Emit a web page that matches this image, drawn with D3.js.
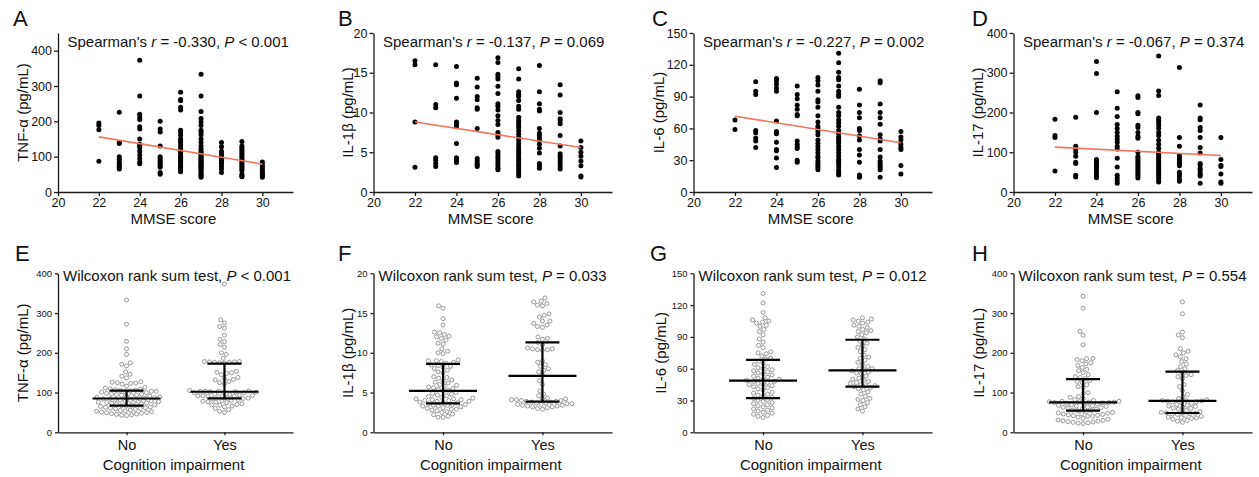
<!DOCTYPE html>
<html><head><meta charset="utf-8">
<script src="https://cdn.jsdelivr.net/npm/d3@7"></script>
<style>body{margin:0;background:#fff} text{font-family:Arial,'Liberation Sans',sans-serif;fill:#111}</style>
</head><body><svg id="c" width="1259" height="477"></svg>
<script>
// ---------- DATA ----------
const mmseTicks = [20, 22, 24, 26, 28, 30];
const mmseScores = [22, 23, 24, 25, 26, 27, 28, 29, 30];
const groups = ["No", "Yes"];

const tnfByScore = [
  [195, 188, 176, 87],
  [226, 140, 137, 100, 93, 85, 80, 75, 70, 65],
  [373, 272, 220, 212, 205, 185, 178, 150, 135, 130, 125, 115, 105, 95, 85, 80],
  [200, 178, 170, 130, 100, 95, 90, 85, 80, 75, 70, 55, 50],
  [282, 262, 258, 240, 232, 175, 168, 160, 150, 145, 140, 133, 125, 118, 112, 105, 100, 98, 95, 92, 88, 85, 80, 75, 70, 65, 60, 57],
  [333, 272, 228, 208, 198, 188, 175, 170, 162, 150, 140, 130, 122, 115, 110, 107, 103, 100, 97, 94, 91, 88, 85, 82, 79, 76, 73, 70, 67, 64, 60, 56, 52, 48, 45, 42],
  [140, 128, 115, 108, 103, 98, 95, 90, 85, 80, 73, 65, 55],
  [143, 130, 125, 120, 115, 110, 105, 100, 95, 90, 85, 80, 75, 70, 65, 60, 50, 45, 43],
  [85, 78, 72, 66, 60, 55, 50, 45, 42]
];
const il1bByScore = [
  [16.5, 16.0, 8.8, 3.1],
  [16.0, 11.0, 10.6, 4.3, 4.0, 3.6, 3.2],
  [15.8, 13.7, 13.5, 11.8, 8.8, 8.5, 8.2, 6.1, 4.3, 4.1, 3.9, 3.7],
  [14.3, 13.2, 12.0, 11.6, 10.6, 10.4, 8.0, 4.2, 3.9, 3.6, 3.4, 3.2],
  [16.9, 16.3, 14.8, 14.5, 14.2, 13.3, 12.4, 11.1, 10.8, 10.3, 9.6, 9.0, 8.5, 7.5, 7.2, 6.9, 5.1, 4.8, 4.5, 4.2, 3.9, 3.6, 3.3, 3.0, 2.8],
  [15.5, 14.2, 12.6, 12.3, 12.0, 11.5, 10.8, 10.4, 9.4, 9.0, 8.7, 8.4, 8.1, 7.7, 7.3, 6.9, 6.5, 6.1, 5.7, 5.3, 5.0, 4.7, 4.4, 4.1, 3.8, 3.5, 3.2, 2.9, 2.6, 2.3, 2.0],
  [15.9, 12.6, 11.1, 10.4, 10.2, 8.0, 7.4, 7.1, 6.8, 6.5, 6.0, 5.5, 4.9, 3.6, 3.3, 3.0],
  [13.5, 12.2, 10.0, 9.2, 9.0, 8.6, 7.1, 5.8, 4.8, 4.5, 4.2, 3.9, 3.6, 3.2, 2.9],
  [6.4, 5.6, 5.0, 4.5, 3.9, 3.3, 2.0, 1.9]
];
const il6ByScore = [
  [68, 59],
  [104, 95, 92, 58, 56, 51, 48, 42],
  [107, 105, 102, 98, 95, 67, 57, 55, 47, 40, 39, 32, 23],
  [100, 92, 88, 82, 78, 73, 72, 48, 45, 43, 41, 30, 28],
  [108, 105, 101, 95, 87, 85, 80, 72, 66, 62, 60, 57, 54, 49, 46, 43, 40, 37, 34, 32, 29, 27, 25, 23, 21],
  [131, 122, 113, 108, 106, 100, 95, 92, 90, 80, 75, 72, 68, 65, 62, 58, 55, 52, 50, 48, 46, 43, 40, 37, 34, 31, 29, 27, 24, 21, 19, 17, 16],
  [97, 82, 75, 70, 60, 58, 53, 49, 40, 35, 28, 16, 15, 14],
  [105, 103, 83, 75, 70, 64, 54, 50, 48, 40, 33, 29, 27, 25, 23, 21, 14],
  [57, 52, 49, 45, 42, 40, 25, 17]
];
const il17ByScore = [
  [183, 142, 137, 53],
  [188, 115, 108, 100, 90, 75, 72, 42, 38],
  [328, 298, 200, 82, 78, 73, 68, 63, 58, 52, 45, 40, 36],
  [252, 211, 190, 170, 160, 150, 140, 133, 125, 115, 108, 85, 63, 42, 35, 28, 22],
  [242, 238, 200, 197, 168, 162, 150, 140, 135, 100, 90, 85, 80, 75, 70, 65, 60, 55, 50, 45, 40, 35],
  [342, 254, 243, 186, 180, 175, 168, 160, 150, 142, 130, 120, 110, 100, 95, 90, 85, 80, 75, 70, 65, 60, 55, 50, 45, 40, 35, 30, 25],
  [313, 137, 115, 92, 88, 82, 77, 72, 66, 50, 45, 40, 33, 27],
  [219, 186, 182, 162, 155, 137, 112, 98, 72, 68, 60, 55, 48, 44, 40, 22],
  [137, 82, 67, 64, 45, 25, 22]
];
// fitted line values at MMSE 22 and 30
const tnfFit = [156, 79];
const il1bFit = [8.8, 5.6];
const il6Fit = [71.5, 46.4];
const il17Fit = [113, 92];

// group values (No / Yes cognition impairment)
const tnfNo = [333, 272, 229, 210, 196, 175, 171, 167, 152, 146, 141, 137,
  127, 126, 125, 124, 123, 121, 116, 113,
  111, 109, 108, 107, 106, 105, 104, 103, 103, 102, 101, 100,
  98, 97, 96, 95, 94, 93, 92, 91, 90, 89, 88, 87, 86,
  85, 84, 84, 83, 82, 81, 80, 79, 78, 77, 76, 75, 74, 73, 72,
  71, 70, 69, 68, 67, 66, 65, 64, 63, 62, 61, 60, 59, 58,
  56, 55, 54, 53, 52, 51, 50, 49, 48, 47, 46, 45, 44, 43, 42];
const tnfYes = [373, 283, 275, 266, 262, 244, 234, 228, 221, 214, 200, 196, 186,
  178, 178, 177, 177, 176, 176, 175, 174,
  153, 151, 150, 148, 145,
  138, 135, 133, 132, 128, 125, 122,
  105, 104, 104, 103, 103, 102, 102, 101, 100, 100, 99,
  96, 95, 94, 93, 92, 92, 91, 90, 89, 88,
  86, 85, 84, 82, 80, 79, 78, 77, 76, 75,
  72, 70, 69, 68, 66, 64, 60, 57, 53, 50];
const il1bNo = [15.9, 15.6, 14.3, 13.5, 12.6, 12.5, 12.3, 12.1, 12.0, 11.8, 11.6, 11.2, 11.1, 10.5, 10.2, 10.0, 9.9,
  9.1, 9.0, 9.0, 8.9, 8.8, 8.7, 8.5, 8.4, 8.3, 8.2, 8.0, 7.8, 7.6, 7.5,
  7.0, 6.9, 6.8, 6.6, 6.5, 6.3, 6.2, 6.0, 5.9, 5.8, 5.7, 5.6, 5.5, 5.4, 5.3, 5.2,
  5.0, 4.9, 4.8, 4.7, 4.6, 4.5, 4.4, 4.3, 4.2, 4.2, 4.1, 4.1, 4.0, 4.0, 3.9, 3.9, 3.8, 3.8, 3.7,
  3.6, 3.5, 3.5, 3.4, 3.4, 3.3, 3.3, 3.2, 3.1, 3.0, 2.9, 2.9, 2.8, 2.7, 2.6, 2.5, 2.3, 2.2, 2.0, 1.9, 1.9];
const il1bYes = [16.9, 16.5, 16.4, 16.2, 16.0, 15.9, 14.9, 14.7, 14.5, 14.0, 14.0, 13.7, 13.5, 13.3, 13.2,
  12.0, 11.8, 11.7, 11.3, 11.0, 10.6, 10.5, 10.5, 10.4, 10.4, 10.3,
  9.0, 8.8, 8.5, 8.3, 8.0, 7.8, 7.6, 7.2, 6.5, 6.0, 5.2, 4.8, 4.6,
  4.3, 4.2, 4.2, 4.1, 4.1, 4.0, 4.0, 3.9, 3.9, 3.8, 3.8, 3.7, 3.7, 3.6, 3.6, 3.5, 3.5,
  3.4, 3.4, 3.3, 3.3, 3.2, 3.2, 3.1, 3.0, 2.9];
const il6No = [131, 122, 113, 108, 106, 105, 104, 103, 101, 100, 97, 95, 92, 88, 85, 82, 80, 76, 75, 74, 72, 70, 69, 67, 65,
  64, 62, 61, 60, 59, 58, 57, 56, 55, 54, 53, 52, 51, 50, 50, 49, 48, 48, 47, 46, 45, 45, 44, 43, 42, 41, 40,
  38, 37, 36, 35, 34, 33, 32, 31, 30, 29, 28, 27, 26, 25, 24, 23, 22, 21, 20, 19, 18, 17, 16, 15, 14];
const il6Yes = [108, 107, 106, 105, 104, 103, 101, 100, 99, 97, 96, 95, 94, 92, 90, 88, 86, 84, 82, 80, 78, 76, 73, 71, 70,
  68, 66, 64, 62, 60, 60, 59, 58, 57, 56, 55, 53, 51, 50, 49, 48, 47, 46, 45, 44, 44, 43, 42, 41, 40,
  38, 36, 34, 32, 31, 30, 28, 26, 24, 22, 20];
const il17No = [342, 312, 254, 244, 220, 186, 185, 183, 180, 175, 172, 168, 163, 158, 155, 150, 145, 140, 138, 135, 130, 128, 125, 120, 115, 112,
  100, 98, 90, 88, 85, 82, 80, 78, 78, 77, 77, 76, 76, 75, 75, 74, 73, 72, 71, 70, 68, 67, 66, 65, 64, 63, 62, 61, 60,
  58, 56, 55, 54, 52, 50, 49, 48, 47, 46, 45, 44, 43, 42, 41, 40, 38, 35, 33, 31, 30, 29, 28, 27, 26, 25, 24, 23, 22];
const il17Yes = [328, 298, 252, 245, 238, 210, 204, 200, 195, 190, 185, 178, 172, 165, 160, 155, 150, 145, 143, 140, 135, 120, 115, 105,
  95, 90, 85, 82, 80, 80, 79, 78, 77, 76, 75, 73, 70, 68, 66, 65, 63, 61, 60, 58, 55, 52, 50, 50, 49, 48, 47, 46, 45,
  42, 40, 38, 37, 36, 35, 33, 30, 28, 25];
// [q1, median, q3]
const tnfNoStats = [67, 85, 105], tnfYesStats = [85.5, 102, 173];
const il1bNoStats = [3.65, 5.2, 8.6], il1bYesStats = [3.85, 7.1, 11.3];
const il6NoStats = [32.3, 48.7, 68.4], il6YesStats = [43, 58.5, 87.3];
const il17NoStats = [54.5, 75.5, 134], il17YesStats = [48.6, 79, 152.6];

// ---------- LAYOUT ----------
const svg = d3.select("#c");
const axisX = [58, 373.5, 693.5, 1013.5];
const axisEnd = [293, 612, 932, 1252];
const ylabOff = [35, 26, 35, 36];
const ylabOffB = [35, 26, 33, 35];
const letterX = [13, 338, 652, 972];
const letterXB = [15, 338, 650, 972];
const INK = "#1a1a1a";

const topPanels = [
  {L: "A", lab: "TNF-α (pg/mL)", dom: [0, 450], ticks: [0,100,200,300,400], data: tnfByScore, fit: tnfFit, txt: ["Spearman's ", "r", " = -0.330, ", "P", " < 0.001"]},
  {L: "B", lab: "IL-1β (pg/mL)", dom: [0, 20], ticks: [0,5,10,15,20], data: il1bByScore, fit: il1bFit, txt: ["Spearman's ", "r", " = -0.137, ", "P", " = 0.069"]},
  {L: "C", lab: "IL-6 (pg/mL)", dom: [0, 150], ticks: [0,30,60,90,120,150], data: il6ByScore, fit: il6Fit, txt: ["Spearman's ", "r", " = -0.227, ", "P", " = 0.002"]},
  {L: "D", lab: "IL-17 (pg/mL)", dom: [0, 400], ticks: [0,100,200,300,400], data: il17ByScore, fit: il17Fit, txt: ["Spearman's ", "r", " = -0.067, ", "P", " = 0.374"]}
];
const bottomPanels = [
  {L: "E", lab: "TNF-α (pg/mL)", dom: [0, 400], ticks: [0,100,200,300,400], no: tnfNo, yes: tnfYes, sNo: tnfNoStats, sYes: tnfYesStats, p: " < 0.001"},
  {L: "F", lab: "IL-1β (pg/mL)", dom: [0, 20], ticks: [0,5,10,15,20], no: il1bNo, yes: il1bYes, sNo: il1bNoStats, sYes: il1bYesStats, p: " = 0.033"},
  {L: "G", lab: "IL-6 (pg/mL)", dom: [0, 150], ticks: [0,30,60,90,120,150], no: il6No, yes: il6Yes, sNo: il6NoStats, sYes: il6YesStats, p: " = 0.012"},
  {L: "H", lab: "IL-17 (pg/mL)", dom: [0, 400], ticks: [0,100,200,300,400], no: il17No, yes: il17Yes, sNo: il17NoStats, sYes: il17YesStats, p: " = 0.554"}
];

function styleAxis(g, fs) {
  g.selectAll(".domain").attr("stroke", INK).attr("stroke-width", 1.3);
  g.selectAll(".tick line").attr("stroke", INK).attr("stroke-width", 1.3);
  g.selectAll(".tick text").attr("fill", INK).style("font-size", fs + "px").style("font-family", "Arial,'Liberation Sans',sans-serif");
}

function swarm(vals, y, r, cx) {
  const sorted = vals.slice().sort((a, b) => a - b);
  const placed = [];
  const d = 2 * r + 0.9;
  for (const v of sorted) {
    const py = y(v);
    let off = 0;
    for (let k = 0; k < 600; k++) {
      const o = (k % 2 === 0 ? 1 : -1) * Math.ceil(k / 2) * 0.25;
      let ok = true;
      for (const p of placed) {
        const dx = p.o - o, dy = p.y - py;
        if (dx * dx + dy * dy < d * d) { ok = false; break; }
      }
      if (ok) { off = o; break; }
    }
    placed.push({o: off, y: py, v});
  }
  return placed.map(p => ({x: cx + p.o, y: p.y}));
}

// ---------- TOP ROW ----------
topPanels.forEach((P, i) => {
  const x = d3.scaleLinear().domain([20, 31.5]).range([axisX[i], axisEnd[i]]);
  const y = d3.scaleLinear().domain(P.dom).range([192, 33]);
  const g = svg.append("g");
  const ya = g.append("g").attr("transform", `translate(${axisX[i]},0)`)
    .call(d3.axisLeft(y).tickValues(P.ticks).tickSize(4).tickSizeOuter(0).tickPadding(2));
  styleAxis(ya, 12.5);
  const xa = g.append("g").attr("transform", `translate(0,192)`)
    .call(d3.axisBottom(x).tickValues(mmseTicks).tickSize(4).tickSizeOuter(0).tickPadding(2));
  styleAxis(xa, 12.5);
  P.data.forEach((arr, j) => {
    g.selectAll(null).data(arr).enter().append("circle")
      .attr("cx", x(mmseScores[j])).attr("cy", d => y(d)).attr("r", 2.5).attr("fill", "#000");
  });
  g.append("line").attr("x1", x(22)).attr("x2", x(30)).attr("y1", y(P.fit[0])).attr("y2", y(P.fit[1]))
    .attr("stroke", "#f4735f").attr("stroke-width", 1.6);
  const t = g.append("text").attr("x", axisX[i] + 9.5).attr("y", 47).style("font-size", "15px");
  P.txt.forEach((s, k) => t.append("tspan").text(s).style("font-style", (k === 1 || k === 3) ? "italic" : "normal"));
  g.append("text").attr("transform", `translate(${axisX[i] - ylabOff[i]},${(192 + 33) / 2}) rotate(-90)`)
    .attr("text-anchor", "middle").attr("dy", "0.35em").style("font-size", "15px").text(P.lab);
  g.append("text").attr("x", (axisX[i] + axisEnd[i]) / 2 - 2).attr("y", 224).attr("text-anchor", "middle")
    .style("font-size", "15px").text("MMSE score");
  g.append("text").attr("x", letterX[i]).attr("y", 26).style("font-size", "22px").text(P.L);
});

// ---------- BOTTOM ROW ----------
bottomPanels.forEach((P, i) => {
  const x = d3.scalePoint().domain(groups).range([axisX[i], axisEnd[i]]).padding(0.7);
  const y = d3.scaleLinear().domain(P.dom).range([432.3, 273.3]);
  const g = svg.append("g");
  const ya = g.append("g").attr("transform", `translate(${axisX[i]},0)`)
    .call(d3.axisLeft(y).tickValues(P.ticks).tickSize(3).tickSizeOuter(0).tickPadding(3));
  styleAxis(ya, 9.5);
  const xa = g.append("g").attr("transform", `translate(0,432.3)`)
    .call(d3.axisBottom(x).tickSize(3).tickSizeOuter(0).tickPadding(4));
  styleAxis(xa, 14.5);
  [[P.no, P.sNo, "No"], [P.yes, P.sYes, "Yes"]].forEach(([vals, st, grp]) => {
    const cx = x(grp);
    const pts = swarm(vals, y, 2.0, cx);
    g.selectAll(null).data(pts).enter().append("circle")
      .attr("cx", d => d.x).attr("cy", d => d.y).attr("r", 2.0)
      .attr("fill", "#fff").attr("stroke", "#8c8c8c").attr("stroke-width", 0.9);
    const eb = g.append("g").attr("stroke", "#000").attr("stroke-width", 2.2);
    eb.append("line").attr("x1", cx).attr("x2", cx).attr("y1", y(st[0])).attr("y2", y(st[2]));
    eb.append("line").attr("x1", cx - 34).attr("x2", cx + 34).attr("y1", y(st[1])).attr("y2", y(st[1]));
    eb.append("line").attr("x1", cx - 17).attr("x2", cx + 17).attr("y1", y(st[0])).attr("y2", y(st[0]));
    eb.append("line").attr("x1", cx - 17).attr("x2", cx + 17).attr("y1", y(st[2])).attr("y2", y(st[2]));
  });
  const t = g.append("text").attr("x", axisX[i] + 5).attr("y", 281).style("font-size", "15px");
  t.append("tspan").text("Wilcoxon rank sum test, ");
  t.append("tspan").text("P").style("font-style", "italic");
  t.append("tspan").text(P.p);
  g.append("text").attr("transform", `translate(${axisX[i] - ylabOffB[i]},${(432.3 + 273.3) / 2}) rotate(-90)`)
    .attr("text-anchor", "middle").attr("dy", "0.35em").style("font-size", "15px").text(P.lab);
  g.append("text").attr("x", (axisX[i] + axisEnd[i]) / 2 - 2).attr("y", 470).attr("text-anchor", "middle")
    .style("font-size", "15px").text("Cognition impairment");
  g.append("text").attr("x", letterXB[i]).attr("y", 261).style("font-size", "22px").text(P.L);
});
</script></body></html>
